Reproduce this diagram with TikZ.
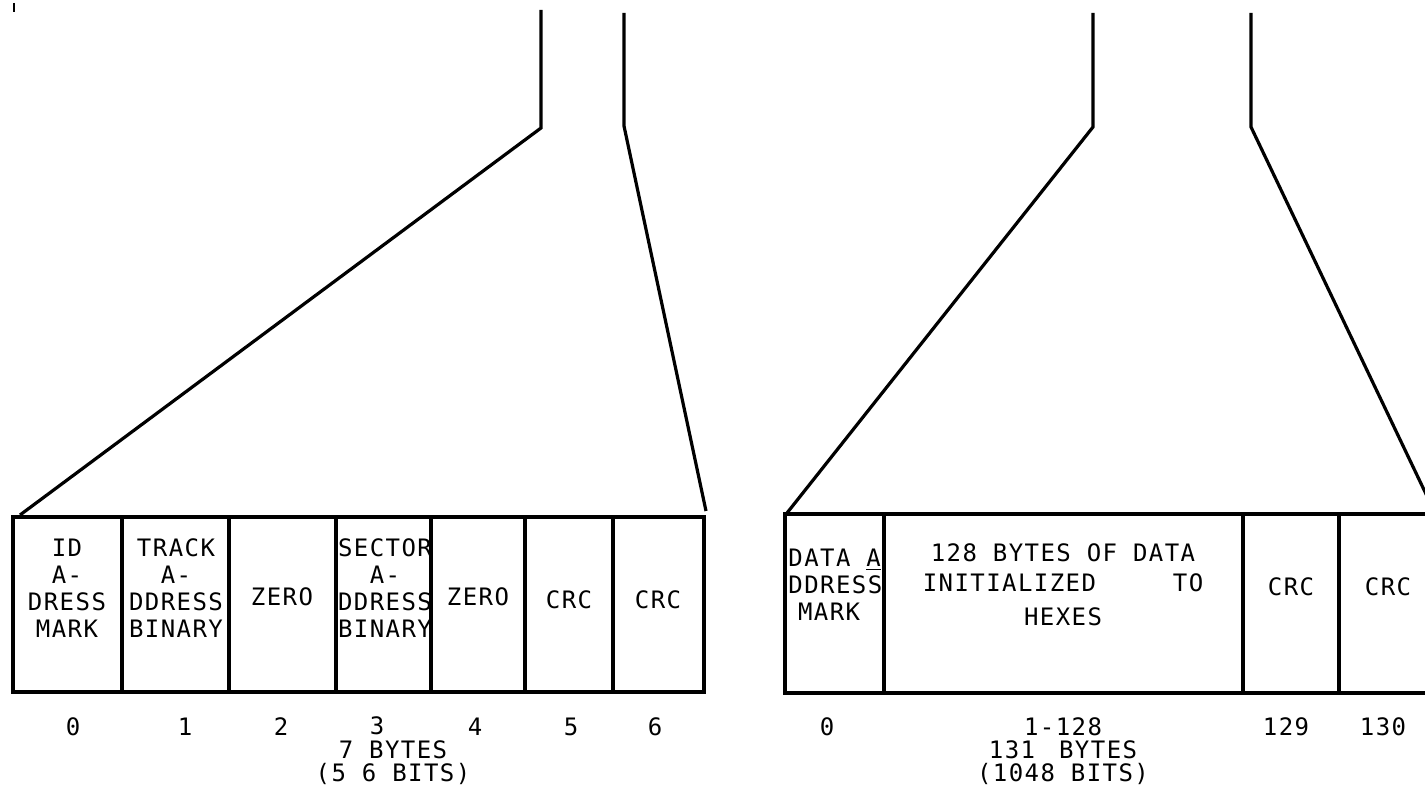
\documentclass[tikz,border=0pt]{standalone}
\usepackage{fontspec}
\newfontfamily\mono[LetterSpace=6]{DejaVu Sans Mono}
\begin{document}
\begin{tikzpicture}[x=0.5pt,y=-0.5pt,
  box/.style={line width=2.2pt},
  funnel/.style={line width=1.6pt,line join=miter},
  lbl/.style={font={\mono\fontsize{12}{13.5}\selectfont},inner sep=0pt,align=center},
  sum/.style={lbl,font={\mono\fontsize{12}{11.5}\selectfont}},
]
\useasboundingbox (0,0) rectangle (1425,801);
\clip (0,0) rectangle (1425,801);
% small tick top-left
\draw[line width=1.3pt] (14,3) -- (14,12);
% ---------- left funnel ----------
\coordinate (la1) at (541,10);  \coordinate (la2) at (541,128); \coordinate (la3) at (20,515);
\coordinate (lb1) at (624,13);  \coordinate (lb2) at (624,126); \coordinate (lb3) at (706,511);
\draw[funnel] (la1) -- (la2) -- (la3);
\draw[funnel] (lb1) -- (lb2) -- (lb3);
% ---------- left table ----------
\draw[box] (13,517) rectangle (704,692);
\foreach \x in {122,229,336,431,525,613} \draw[box] (\x,517) -- (\x,692);
\node[lbl] (c0) at (67,588) {ID\\A-\\DRESS\\MARK};
\node[lbl] (c1) at (176,588) {TRACK\\A-\\DDRESS\\BINARY};
\node[lbl] (c2) at (282,597) {ZERO};
\node[lbl] (c3) at (385,588) {SECTOR\\A-\\DDRESS\\BINARY};
\node[lbl] (c4) at (478,597) {ZERO};
\node[lbl] (c5) at (569,600) {CRC};
\node[lbl] (c6) at (658,600) {CRC};
\node[lbl] (n0) at (73,727) {0};
\node[lbl] (n1) at (185,727) {1};
\node[lbl] (n2) at (281,727) {2};
\node[lbl] (n3) at (377,726) {3};
\node[lbl] (n4) at (475,727) {4};
\node[lbl] (n5) at (571,727) {5};
\node[lbl] (n6) at (655,727) {6};
\node[sum] (lt) at (393,763) {7 BYTES\\(5 6 BITS)};
% ---------- right funnel ----------
\coordinate (ra1) at (1093,13); \coordinate (ra2) at (1093,127); \coordinate (ra3) at (787,513);
\coordinate (rb1) at (1251,13); \coordinate (rb2) at (1251,127); \coordinate (rb3) at (1436,515);
\draw[funnel] (ra1) -- (ra2) -- (ra3);
\draw[funnel] (rb1) -- (rb2) -- (rb3);
% ---------- right table ----------
\draw[box] (785,514) rectangle (1445,693);
\foreach \x in {884,1243,1339} \draw[box] (\x,514) -- (\x,693);
\node[lbl,align=left,anchor=west] (d0) at (788,585) {DATA \underline{A}\\DDRESS\\\hspace{0.4em}MARK};
\node[lbl] (d1) at (1063,553) {128 BYTES OF DATA};
\node[lbl] (d1b) at (1063,583) {INITIALIZED\hspace{3.2em}TO};
\node[lbl] (d1c) at (1063,617) {HEXES};
\node[lbl] (d2) at (1291,587) {CRC};
\node[lbl] (d3) at (1388,587) {CRC};
\node[lbl] (m0) at (827,727) {0};
\node[sum] (m1) at (1063,751) {1-128\\131\hspace{1em}BYTES\\(1048 BITS)};
\node[lbl] (m2) at (1286,727) {129};
\node[lbl] (m3) at (1383,727) {130};
\end{tikzpicture}
\end{document}
